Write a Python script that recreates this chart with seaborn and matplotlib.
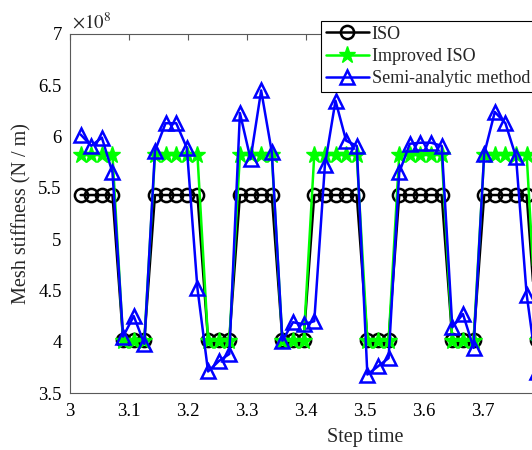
import numpy as np
import pandas as pd
import matplotlib
matplotlib.use("Agg")
import matplotlib.pyplot as plt
import seaborn as sns

# ---- data (stiffness in units of 1e8 N/m) ----
step_time = [3.018, 3.036, 3.054, 3.072, 3.090, 3.108, 3.126, 3.144, 3.162, 3.180,
             3.198, 3.216, 3.234, 3.252, 3.270, 3.288, 3.306, 3.324, 3.342, 3.360,
             3.378, 3.396, 3.414, 3.432, 3.450, 3.468, 3.486, 3.504, 3.522, 3.540,
             3.558, 3.576, 3.594, 3.612, 3.630, 3.648, 3.666, 3.684, 3.702, 3.720,
             3.738, 3.756, 3.774, 3.792]

iso = [5.43, 5.43, 5.43, 5.43, 4.02, 4.02, 4.02, 5.43, 5.43, 5.43,
       5.43, 5.43, 4.02, 4.02, 4.02, 5.43, 5.43, 5.43, 5.43, 4.02,
       4.02, 4.02, 5.43, 5.43, 5.43, 5.43, 5.43, 4.02, 4.02, 4.02,
       5.43, 5.43, 5.43, 5.43, 5.43, 4.02, 4.02, 4.02, 5.43, 5.43,
       5.43, 5.43, 5.43, 4.02]

improved_iso = [5.82, 5.82, 5.82, 5.82, 4.01, 4.01, 4.01, 5.82, 5.82, 5.82,
                5.82, 5.82, 4.01, 4.01, 4.01, 5.82, 5.82, 5.82, 5.82, 4.01,
                4.01, 4.01, 5.82, 5.82, 5.82, 5.82, 5.82, 4.01, 4.01, 4.01,
                5.82, 5.82, 5.82, 5.82, 5.82, 4.01, 4.01, 4.01, 5.82, 5.82,
                5.82, 5.82, 5.82, 4.01]

semi_analytic = [6.02, 5.91, 5.99, 5.65, 4.05, 4.25, 3.98, 5.86, 6.13, 6.13,
                 5.89, 4.52, 3.71, 3.81, 3.88, 6.23, 5.78, 6.45, 5.85, 4.01,
                 4.19, 4.17, 4.20, 5.72, 6.35, 5.96, 5.91, 3.68, 3.76, 3.84,
                 5.65, 5.93, 5.94, 5.94, 5.91, 4.14, 4.27, 3.94, 5.83, 6.24,
                 6.13, 5.80, 4.46, 3.70]

series_names = ["ISO", "Improved ISO", "Semi-analytic method"]
x_ticks = [3, 3.1, 3.2, 3.3, 3.4, 3.5, 3.6, 3.7]
y_ticks = [3.5, 4, 4.5, 5, 5.5, 6, 6.5, 7]

df = pd.DataFrame({"t": step_time, "iso": iso, "imp": improved_iso, "semi": semi_analytic})

sns.set_theme(style="white")
plt.rcParams["font.family"] = ["Liberation Serif", "DejaVu Serif"]
plt.rcParams["mathtext.fontset"] = "stix"

fig = plt.figure(figsize=(5.32, 4.5), dpi=100)
W, H = 532, 450
left_px, top_px, bottom_px = 70, 34, 393
x_min, x_max = 3.0, 4.0
px_per_unit = 590
ax = fig.add_axes([left_px / W, (H - bottom_px) / H,
                   (x_max - x_min) * px_per_unit / W, (bottom_px - top_px) / H])

lw = 1.8
sns.lineplot(data=df, x="t", y="iso", ax=ax, color="black", linewidth=lw,
             marker="o", markersize=9.5, markerfacecolor="none",
             markeredgecolor="black", markeredgewidth=1.8,
             label=series_names[0], sort=False, estimator=None)
sns.lineplot(data=df, x="t", y="imp", ax=ax, color="#00ff00", linewidth=lw,
             marker="*", markersize=12.5, markerfacecolor="#00ff00",
             markeredgecolor="#00ff00", markeredgewidth=1.0,
             label=series_names[1], sort=False, estimator=None)
sns.lineplot(data=df, x="t", y="semi", ax=ax, color="#0000ff", linewidth=lw,
             marker="^", markersize=10.5, markerfacecolor="none",
             markeredgecolor="#0000ff", markeredgewidth=1.8,
             label=series_names[2], sort=False, estimator=None)

ax.set_xlim(x_min, x_max)
ax.set_ylim(3.5, 7)
ax.set_xticks(x_ticks)
ax.set_yticks(y_ticks)
ax.set_xticklabels([f"{v:g}" for v in x_ticks])
ax.set_yticklabels([f"{v:g}" for v in y_ticks])

spine_col = "0.35"
for s in ["left", "bottom", "top", "right"]:
    ax.spines[s].set_color(spine_col)
    ax.spines[s].set_linewidth(0.8)
ax.tick_params(axis="both", direction="in", length=4, width=0.8, color=spine_col,
               labelsize=13.5, labelcolor="black", top=True, right=False)
ax.tick_params(axis="x", pad=7)
ax.tick_params(axis="y", pad=6)

ax.set_xlabel("Step time", fontsize=14.5, labelpad=6)
ax.set_ylabel("Mesh stiffness (N / m)", fontsize=14.5, labelpad=5)

ax.text(0.003, 1.005, r"$\times10^{8}$", transform=ax.transAxes, fontsize=13.5,
        ha="left", va="bottom")

leg = ax.legend(loc="upper left", bbox_to_anchor=(321 / W, 1 - 21 / H),
                bbox_transform=fig.transFigure, fontsize=13, frameon=True,
                fancybox=False, framealpha=1, edgecolor="black",
                handlelength=2.4, handletextpad=0.15, borderpad=0.25,
                labelspacing=0.3, borderaxespad=0)
leg.get_frame().set_linewidth(0.8)
leg.set_zorder(10)

fig.savefig("out.png", dpi=100)
